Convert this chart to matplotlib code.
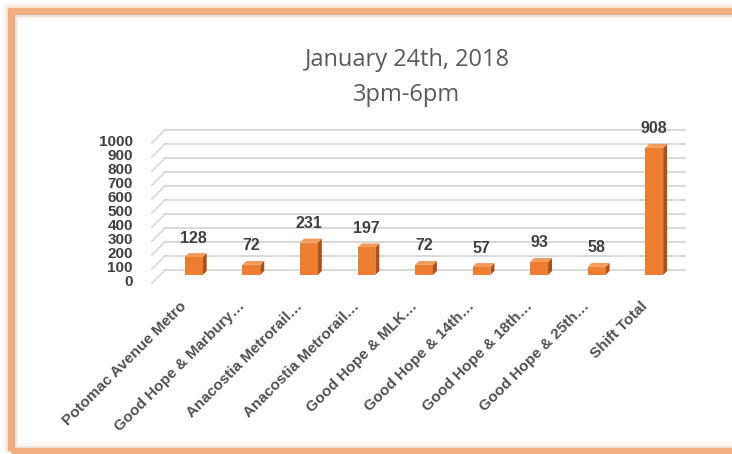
import matplotlib
matplotlib.use("Agg")
import matplotlib.pyplot as plt
from matplotlib.patches import Polygon, Rectangle

stops = ["Potomac Avenue Metro", "Good Hope & Marbury…", "Anacostia Metrorail…",
         "Anacostia Metrorail…", "Good Hope & MLK…", "Good Hope & 14th…",
         "Good Hope & 18th…", "Good Hope & 25th…", "Shift Total"]
counts = [128, 72, 231, 197, 72, 57, 93, 58, 908]
yticks = list(range(0, 1001, 100))

W, H = 732, 454
FRONT = "#ED7D31"
SIDE = "#A9531A"
TOP = "#F29B5C"
GRID = "#d5d5d5"

fig = plt.figure(figsize=(W / 100, H / 100), dpi=100)
fig.patch.set_facecolor("white")

# orange frame with soft glow (left, top and bottom edges visible)
for lw, a in [(16, 0.12), (11, 0.25), (7, 1.0)]:
    fig.patches.append(Rectangle((11 / W, 3 / H), 760 / W, 440 / H, transform=fig.transFigure,
                                 fill=False, edgecolor="#F2AE82", lw=lw * 0.72, alpha=a))
fig.patches.append(Rectangle((15 / W, 7 / H), 760 / W, 432 / H, transform=fig.transFigure,
                             fill=False, edgecolor="#e2e2e2", lw=0.8))

# axes box = back wall extent in pixels (x 165..683, y 135..275 from top)
left, right, top, bottom = 165, 683, 135, 275
ax = fig.add_axes([left / W, 1 - bottom / H, (right - left) / W, (bottom - top) / H])
ax.set_xlim(-0.5, 8.5)
ax.set_ylim(0, 1000)
ax.axis("off")

dxp = 9 / (right - left)          # data units per pixel, x
dyp = 1000 / (bottom - top)       # data units per pixel, y

# back-wall and side-wall gridlines
back_off, side_len = 5 * dyp, 13
for v in yticks:
    yb = v + back_off
    ax.plot([-0.5, 8.5 + 2 * dxp], [yb, yb], color=GRID, lw=1.3, clip_on=False, zorder=1)
    ax.plot([-0.5 - side_len * dxp, -0.5], [yb - side_len * dyp, yb],
            color=GRID, lw=1.1, clip_on=False, zorder=1)
    ax.text(-0.5 - 32 * dxp, v - 50, str(v), ha="right", va="center", fontsize=11,
            fontweight="bold", color="#404040", family="Liberation Sans", clip_on=False)

# 3D-looking columns
bw = 0.31
ddx, ddy = 4 * dxp, 4 * dyp
for i, v in enumerate(counts):
    x0, x1 = i - bw / 2, i + bw / 2
    ax.add_patch(Polygon([(x1, 0), (x1 + ddx, ddy), (x1 + ddx, v + ddy), (x1, v)],
                         closed=True, facecolor=SIDE, edgecolor="none", zorder=3))
    ax.add_patch(Polygon([(x0, v), (x0 + ddx, v + ddy), (x1 + ddx, v + ddy), (x1, v)],
                         closed=True, facecolor=TOP, edgecolor="none", zorder=3))
    ax.bar(i, v, width=bw, color=FRONT, edgecolor="none", zorder=4)
    ax.text(i, v + 19 * dyp, str(v), ha="center", va="center", fontsize=11.5,
            fontweight="bold", color="#404040", family="Liberation Sans")
    ax.text(i - 9 * dxp, -29 * dyp, stops[i], ha="right", va="center", rotation=45,
            rotation_mode="anchor", fontsize=11, fontweight="bold", color="#505050",
            family="Liberation Sans", clip_on=False)

fig.text(407 / W, 1 - 60 / H, "January 24th, 2018", ha="center", va="center",
         fontsize=17, color="#595959", family="Open Sans")
fig.text(407 / W, 1 - 95 / H, "3pm-6pm", ha="center", va="center",
         fontsize=17, color="#595959", family="Open Sans")

fig.savefig("out.png", dpi=100)
